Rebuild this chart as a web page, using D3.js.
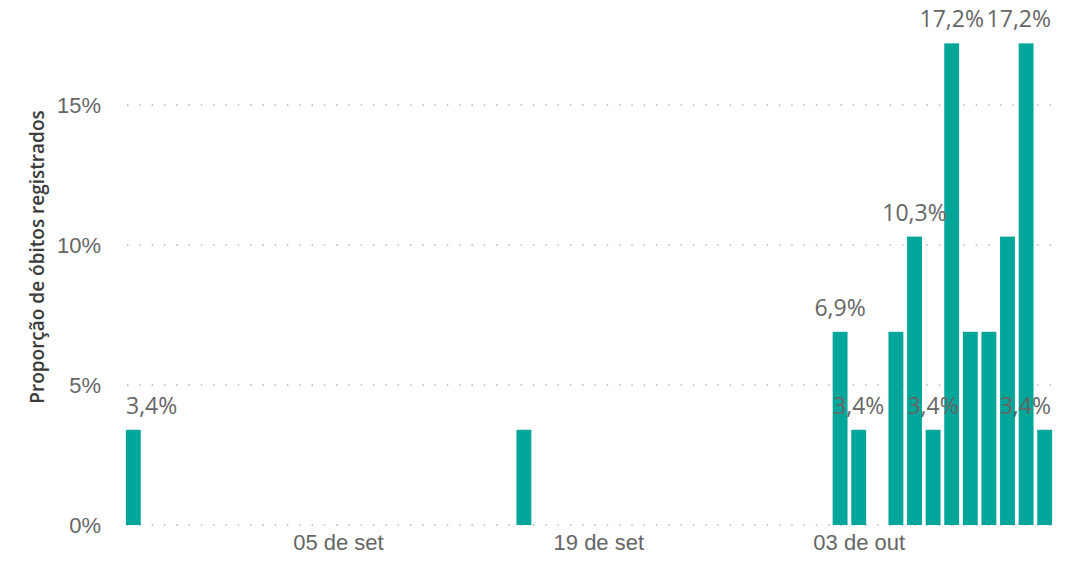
<!DOCTYPE html>
<html>
<head>
<meta charset="utf-8">
<script src="https://cdn.jsdelivr.net/npm/d3@7"></script>
<style>
  body { margin: 0; background: #fff; }
  svg { display: block; font-family: "Segoe UI", "Open Sans", sans-serif; }
  .tick text { fill: #666; }
  .lbl { fill: #666; }
</style>
</head>
<body>
<script>
// data
const dates = ['2020-08-25', '2020-09-15', '2020-10-02', '2020-10-03', '2020-10-05', '2020-10-06',
               '2020-10-07', '2020-10-08', '2020-10-09', '2020-10-10', '2020-10-11', '2020-10-12', '2020-10-13'];
const values = [3.4, 3.4, 6.9, 3.4, 6.9, 10.3, 3.4, 17.2, 6.9, 6.9, 10.3, 17.2, 3.4];
// which bars carry a visible data label
const labelled = [true, false, true, true, false, true, true, true, false, false, false, true, true];
const xTicks = ['2020-09-05', '2020-09-19', '2020-10-03'];
const yTicks = [0, 5, 10, 15];
const yTitle = 'Proporção de óbitos registrados';

const W = 1080, H = 562;
const margin = { top: 21, right: 26, bottom: 37, left: 124 };

const parse = d3.utcParse('%Y-%m-%d');
const ptTime = d3.timeFormatLocale({
  dateTime: '%d/%m/%Y %H:%M:%S', date: '%d/%m/%Y', time: '%H:%M:%S',
  periods: ['AM', 'PM'],
  days: ['domingo', 'segunda', 'terça', 'quarta', 'quinta', 'sexta', 'sábado'],
  shortDays: ['dom', 'seg', 'ter', 'qua', 'qui', 'sex', 'sáb'],
  months: ['janeiro', 'fevereiro', 'março', 'abril', 'maio', 'junho', 'julho', 'agosto', 'setembro', 'outubro', 'novembro', 'dezembro'],
  shortMonths: ['jan', 'fev', 'mar', 'abr', 'mai', 'jun', 'jul', 'ago', 'set', 'out', 'nov', 'dez']
});
const ptNum = d3.formatLocale({ decimal: ',', thousands: '.', grouping: [3], currency: ['R$', ''] });
const fmtLabel = v => ptNum.format('.1f')(v) + '%';

const data = dates.map((d, i) => ({ date: parse(d), value: values[i], show: labelled[i] }));

const halfDay = 12 * 3600 * 1000;
const x = d3.scaleUtc()
  .domain([new Date(parse('2020-08-25') - halfDay), new Date(+parse('2020-10-13') + halfDay)])
  .range([margin.left, W - margin.right]);
const y = d3.scaleLinear().domain([0, 18]).range([H - margin.bottom, margin.top]);

const dayW = x(parse('2020-08-26')) - x(parse('2020-08-25'));
const barW = dayW * 0.8;

const svg = d3.select('body').append('svg').attr('width', W).attr('height', H);

// dotted gridlines
svg.append('g')
  .selectAll('line').data(yTicks).join('line')
  .attr('x1', margin.left + 3).attr('x2', W - margin.right - 2)
  .attr('y1', d => y(d)).attr('y2', d => y(d))
  .attr('stroke', '#c8c8c8').attr('stroke-width', 2)
  .attr('stroke-dasharray', '1.5 10.8');

// y axis
const yAxis = svg.append('g')
  .attr('transform', `translate(${margin.left - 20},0)`)
  .call(d3.axisLeft(y).tickValues(yTicks).tickSize(0).tickFormat(d => d + '%'));
yAxis.select('.domain').remove();
yAxis.selectAll('text').attr('font-size', 22).attr('dy', '0.35em');

// x axis
const xAxis = svg.append('g')
  .attr('transform', `translate(0,${H - margin.bottom})`)
  .call(d3.axisBottom(x).tickValues(xTicks.map(parse)).tickSize(0).tickFormat(ptTime.utcFormat('%d de %b')));
xAxis.select('.domain').remove();
xAxis.selectAll('text').attr('font-size', 22).attr('dy', '1.0em');

// y title
svg.append('text')
  .attr('transform', `translate(44,257) rotate(-90)`)
  .attr('text-anchor', 'middle')
  .attr('font-size', 19).attr('font-weight', 600).attr('fill', '#3a3a3a')
  .text(yTitle);

// bars
svg.append('g')
  .selectAll('rect').data(data).join('rect')
  .attr('x', d => x(d.date) - barW / 2)
  .attr('width', barW)
  .attr('y', d => y(d.value))
  .attr('height', d => y(0) - y(d.value))
  .attr('fill', '#01a69a');

// data labels, kept inside the plot area
const plotL = margin.left + 2, plotR = W - margin.right - 3;
svg.append('g')
  .selectAll('text').data(data.filter(d => d.show)).join('text')
  .attr('class', 'lbl')
  .attr('font-size', 23)
  .attr('y', d => y(d.value) - 16)
  .text(d => fmtLabel(d.value))
  .each(function (d) {
    const w = this.getComputedTextLength();
    let left = x(d.date) - w / 2;
    left = Math.max(plotL, Math.min(plotR - w, left));
    d3.select(this).attr('x', left);
  });
</script>
</body>
</html>
